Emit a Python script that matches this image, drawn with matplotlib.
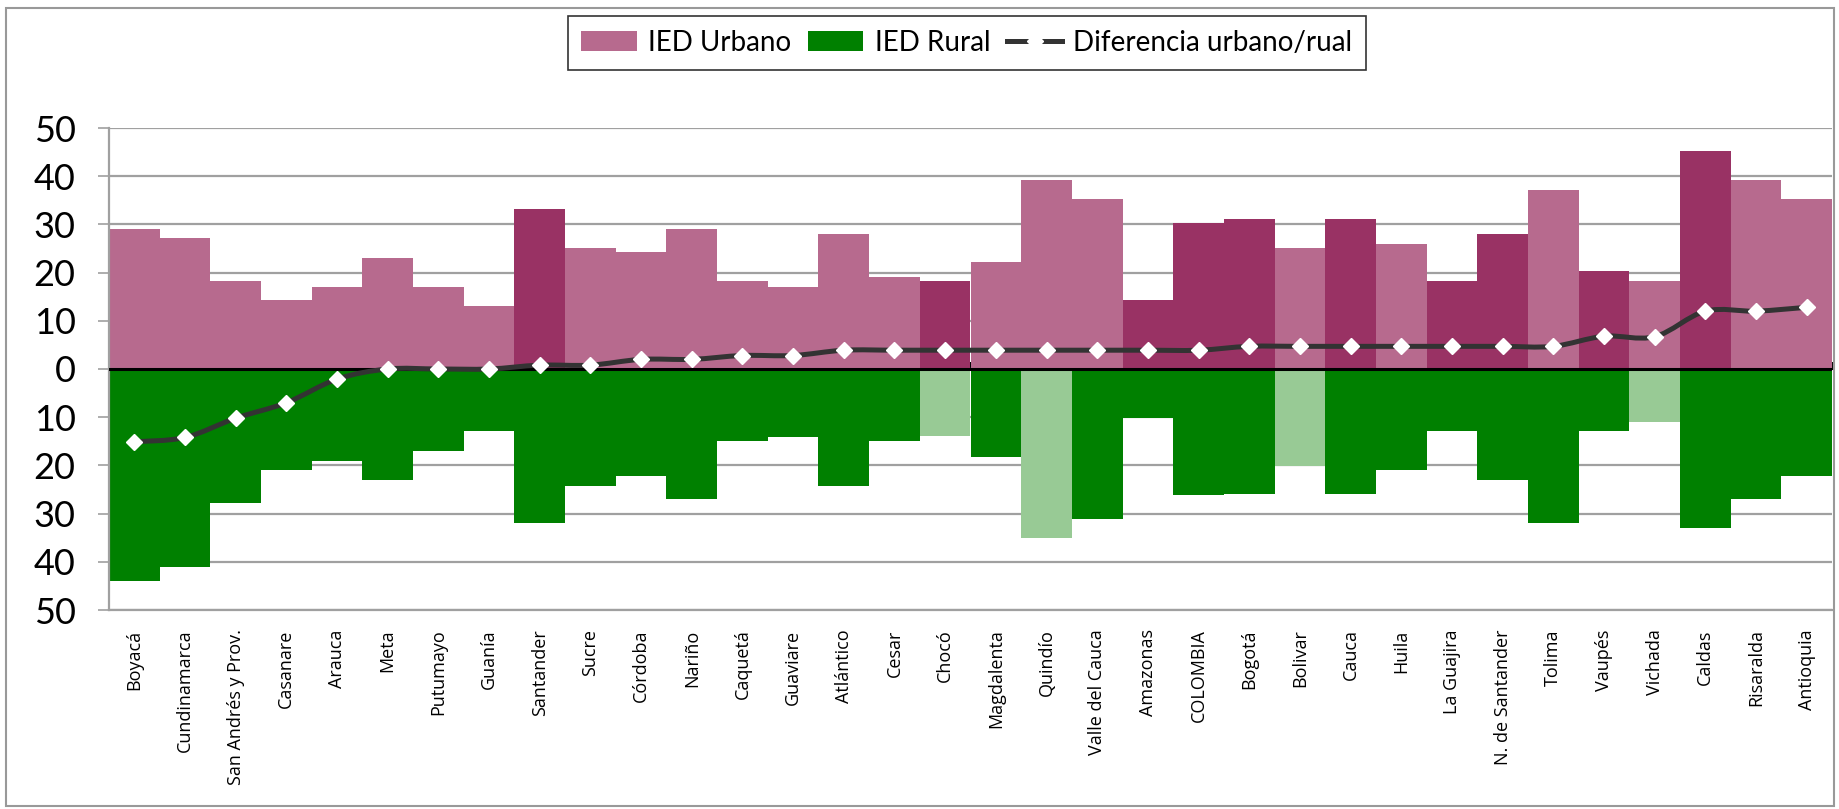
import matplotlib.pyplot as plt
import numpy as np
from matplotlib.path import Path
from matplotlib.patches import PathPatch, Rectangle, Patch
from matplotlib.lines import Line2D
from matplotlib.ticker import FuncFormatter

# Datos
departamentos = ['Boyacá', 'Cundinamarca', 'San Andrés y Prov.', 'Casanare', 'Arauca', 'Meta',
                 'Putumayo', 'Guanía', 'Santander', 'Sucre', 'Córdoba', 'Nariño', 'Caquetá',
                 'Guaviare', 'Atlántico', 'Cesar', 'Chocó', 'Magdalenta', 'Quindío',
                 'Valle del Cauca', 'Amazonas', 'COLOMBIA', 'Bogotá', 'Bolivar', 'Cauca',
                 'Huila', 'La Guajira', 'N. de Santander', 'Tolima', 'Vaupés', 'Vichada',
                 'Caldas', 'Risaralda', 'Antioquia']

ied_urbano = [29.0, 27.2, 18.3, 14.3, 17.0, 23.0, 17.0, 13.1, 33.2, 25.1, 24.3, 29.0, 18.3,
              17.0, 28.0, 19.1, 18.3, 22.2, 39.2, 35.3, 14.3, 30.3, 31.1, 25.1, 31.1,
              25.9, 18.3, 28.0, 37.1, 20.3, 18.3, 45.2, 39.2, 35.3]

ied_rural = [44.0, 41.0, 27.7, 21.0, 19.1, 23.0, 17.0, 12.9, 31.9, 24.2, 22.2, 26.9, 14.9,
             14.1, 24.2, 14.9, 14.0, 18.2, 35.0, 31.1, 10.2, 26.1, 25.9, 20.1, 25.9,
             21.0, 12.9, 23.0, 31.9, 12.9, 10.9, 32.9, 27.0, 22.2]

diferencia = [-15.1, -14.2, -10.2, -7.0, -2.1, 0.0, 0.0, 0.0, 0.8, 0.8, 2.0, 2.0, 2.8,
              2.8, 3.9, 3.9, 3.9, 3.9, 3.9, 3.9, 3.9, 3.9, 4.7, 4.7, 4.7,
              4.7, 4.7, 4.7, 4.7, 6.8, 6.7, 12.0, 12.0, 12.8]

# Barras resaltadas (tono distinto)
urbano_oscuro = ['Santander', 'Chocó', 'Amazonas', 'COLOMBIA', 'Bogotá', 'Cauca',
                 'La Guajira', 'N. de Santander', 'Vaupés', 'Caldas']
rural_claro = ['Chocó', 'Quindío', 'Bolivar', 'Vichada']

# Colores
c_urb = '#B76A8E'
c_urb_osc = '#993264'
c_rur = '#008000'
c_rur_cla = '#98CA95'
c_linea = '#333333'
gris = '#A0A0A0'

W, H = 1839, 809
fig = plt.figure(figsize=(W / 100, H / 100), dpi=100)
ax = fig.add_axes([109 / W, 1 - 610 / H, 1723 / W, 482 / H])

x = np.arange(len(departamentos))
col_urb = [c_urb_osc if d in urbano_oscuro else c_urb for d in departamentos]
col_rur = [c_rur_cla if d in rural_claro else c_rur for d in departamentos]

ax.bar(x, ied_urbano, width=1.0, color=col_urb, zorder=2)
ax.bar(x, [-v for v in ied_rural], width=1.0, color=col_rur, zorder=2)

# Linea suavizada (Bezier tipo Excel) a traves de los puntos
pts = np.column_stack([x, diferencia]).astype(float)
ext = np.vstack([pts[0], pts, pts[-1]])
verts = [tuple(pts[0])]
codes = [Path.MOVETO]
for i in range(len(pts) - 1):
    p0, p1, p2, p3 = ext[i], ext[i + 1], ext[i + 2], ext[i + 3]
    c1 = p1 + (p2 - p0) / 6.0
    c2 = p2 - (p3 - p1) / 6.0
    verts += [tuple(c1), tuple(c2), tuple(p2)]
    codes += [Path.CURVE4] * 3
ax.add_patch(PathPatch(Path(verts, codes), facecolor='none', edgecolor=c_linea,
                       lw=3.6, zorder=4, capstyle='round', joinstyle='round'))
ax.plot(x, diferencia, linestyle='none', marker='D', markersize=8.5,
        markerfacecolor='white', markeredgecolor='white', zorder=5)

# Ejes
ax.set_xlim(-0.5, len(departamentos) - 0.5)
ax.set_ylim(-50, 50)
ax.set_yticks(np.arange(-50, 51, 10))
ax.yaxis.set_major_formatter(FuncFormatter(lambda v, p: f'{abs(int(round(v)))}'))
ax.grid(axis='y', color=gris, lw=1.6, zorder=0)
ax.set_axisbelow(True)
for s in ['top', 'right']:
    ax.spines[s].set_visible(False)
ax.spines['left'].set_color(gris)
ax.spines['left'].set_linewidth(1.6)
ax.spines['bottom'].set_color(gris)
ax.spines['bottom'].set_linewidth(1.6)
ax.tick_params(axis='y', direction='out', length=8, width=1.2, color=gris, pad=16,
               labelsize=26)
for t in ax.get_yticklabels():
    t.set_family('Lato')

ax.set_xticks(x)
ax.set_xticklabels(departamentos, rotation=90, fontsize=13, family='Open Sans')
ax.tick_params(axis='x', length=0, pad=14)

# Eje horizontal en cero con marcas
ax.axhline(0, color='black', lw=2.2, zorder=3)
sec = ax.secondary_xaxis(0.5)
sec.set_xticks(np.arange(-0.5, len(departamentos), 1.0))
sec.set_xticklabels([])
sec.tick_params(axis='x', direction='out', length=5, width=1.4, color='black')
sec.spines['bottom'].set_visible(False)

# Leyenda
handles = [Patch(facecolor=c_urb), Patch(facecolor=c_rur),
           Line2D([], [], color=c_linea, lw=3.6, marker='D', markersize=8.5,
                  markerfacecolor='white', markeredgecolor='white')]
labels = ['IED Urbano', 'IED Rural', 'Diferencia urbano/rual']
leg = fig.legend(handles, labels, loc='upper center', bbox_to_anchor=(967 / W, 1 - 16 / H),
                 ncol=3, frameon=True, fancybox=False, edgecolor='black',
                 prop={'family': 'Lato', 'size': 20}, handlelength=2.0, handleheight=0.75,
                 handletextpad=0.4, columnspacing=0.6, borderpad=0.5, borderaxespad=0)
leg.get_frame().set_linewidth(1.2)

# Marco exterior
fig.patches.append(Rectangle((6 / W, 1 - 806 / H), 1828 / W, 798 / H, transform=fig.transFigure,
                             fill=False, edgecolor='#999999', lw=1.5))

plt.savefig('out.png', dpi=100)
